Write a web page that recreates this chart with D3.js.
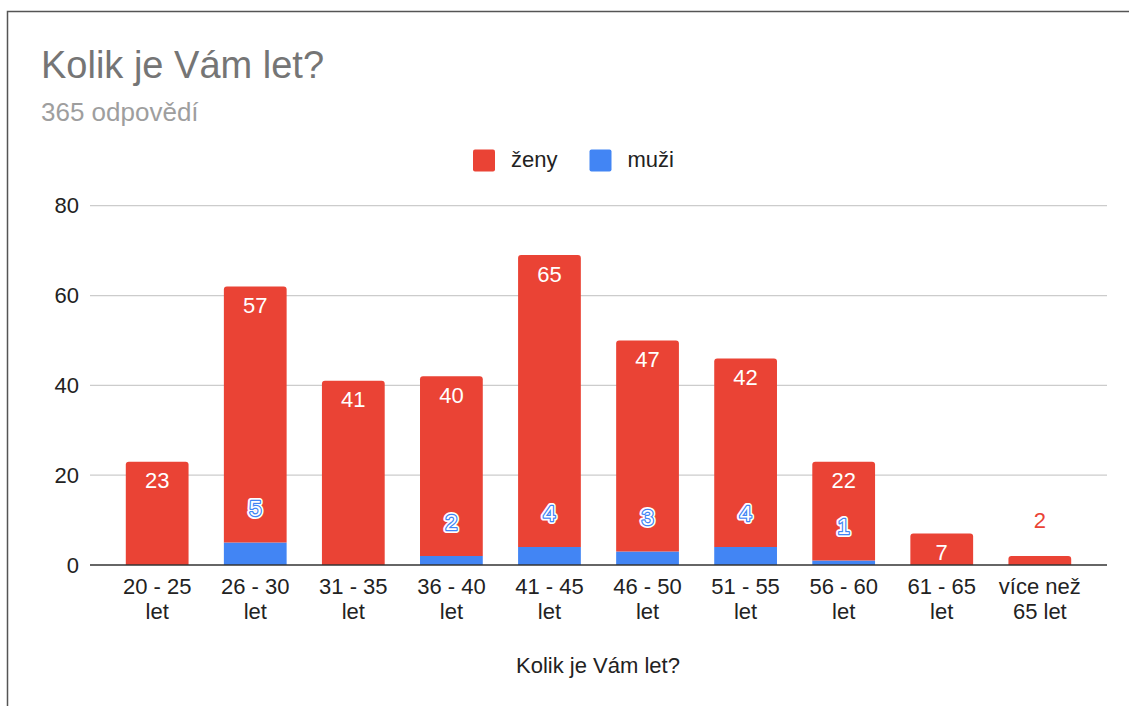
<!DOCTYPE html>
<html>
<head>
<meta charset="utf-8">
<script src="https://cdn.jsdelivr.net/npm/d3@7"></script>
<style>
  body { margin: 0; background: #fff; }
  text { font-family: Arial, "Liberation Sans", sans-serif; }
</style>
</head>
<body>
<script>
const categories = ["20 - 25 let", "26 - 30 let", "31 - 35 let", "36 - 40 let", "41 - 45 let",
  "46 - 50 let", "51 - 55 let", "56 - 60 let", "61 - 65 let", "více než 65 let"];
const zeny = [23, 57, 41, 40, 65, 47, 42, 22, 7, 2];
const muzi = [0, 5, 0, 2, 4, 3, 4, 1, 0, 0];
const seriesNames = ["ženy", "muži"];
const yTicks = [0, 20, 40, 60, 80];

const width = 1129;
const height = 706;
const red = "#ea4335";
const blue = "#4285f4";

const svg = d3
  .select("body")
  .append("svg")
  .attr("width", width)
  .attr("height", height);

// frame
svg
  .append("path")
  .attr("d", "M7.5,706 L7.5,11.5 L1129,11.5")
  .attr("fill", "none")
  .attr("stroke", "#555")
  .attr("stroke-width", 1.5);

svg
  .append("text")
  .attr("x", 41)
  .attr("y", 78)
  .attr("font-size", 38)
  .attr("fill", "#757575")
  .text("Kolik je Vám let?");

svg
  .append("text")
  .attr("x", 41)
  .attr("y", 121)
  .attr("font-size", 26)
  .attr("fill", "#9e9e9e")
  .text("365 odpovědí");

// legend
const legend = svg.append("g").attr("class", "legend");
[[473, red, seriesNames[0]], [589.5, blue, seriesNames[1]]].forEach(([lx, c, name]) => {
  legend
    .append("rect")
    .attr("x", lx)
    .attr("y", 149.5)
    .attr("width", 22)
    .attr("height", 22)
    .attr("rx", 2)
    .attr("fill", c);
  legend
    .append("text")
    .attr("x", lx + 38)
    .attr("y", 167)
    .attr("font-size", 22)
    .attr("fill", "#222")
    .text(name);
});

const x = d3
  .scaleBand()
  .domain(categories)
  .range([90, 1107])
  .paddingInner(0.36)
  .paddingOuter(0.365);

const y = d3.scaleLinear().domain([0, 80]).range([565, 205.7]);

const rows = categories.map((c, i) => ({ cat: c, muzi: muzi[i], zeny: zeny[i] }));
const stack = d3.stack().keys(["muzi", "zeny"])(rows);

// gridlines
svg
  .append("g")
  .selectAll("line")
  .data(yTicks.filter(t => t > 0))
  .join("line")
  .attr("x1", 90)
  .attr("x2", 1107)
  .attr("y1", d => y(d))
  .attr("y2", d => y(d))
  .attr("stroke", "#ccc")
  .attr("stroke-width", 1.3);

// y axis labels
const yAxis = svg
  .append("g")
  .attr("transform", "translate(79,0)")
  .call(d3.axisLeft(y).tickValues(yTicks).tickSize(0).tickPadding(0));
yAxis.select(".domain").remove();
yAxis
  .selectAll("text")
  .attr("font-size", 22)
  .attr("fill", "#222")
  .attr("font-family", "Arial, 'Liberation Sans', sans-serif");

function topRounded(x0, y0, w, h, r) {
  r = Math.min(r, h, w / 2);
  return `M${x0},${y0 + h} L${x0},${y0 + r} Q${x0},${y0} ${x0 + r},${y0} L${x0 + w - r},${y0} Q${x0 + w},${y0} ${x0 + w},${y0 + r} L${x0 + w},${y0 + h} Z`;
}

// bars
const colors = { muzi: blue, zeny: red };
stack.forEach(layer => {
  svg
    .append("g")
    .selectAll("path")
    .data(layer.filter(d => d[1] > d[0]))
    .join("path")
    .attr("fill", colors[layer.key])
    .attr("d", d => {
      const x0 = x(d.data.cat);
      const y0 = y(d[1]);
      const h = y(d[0]) - y0;
      const isTop = layer.key === "zeny" || d.data.zeny === 0;
      return isTop ? topRounded(x0, y0, x.bandwidth(), h, 3) : `M${x0},${y0}h${x.bandwidth()}v${h}h${-x.bandwidth()}Z`;
    });
});

// baseline
svg
  .append("line")
  .attr("x1", 90)
  .attr("x2", 1107)
  .attr("y1", y(0))
  .attr("y2", y(0))
  .attr("stroke", "#333")
  .attr("stroke-width", 1.5);

// ženy labels
const zenyLayer = stack[1];
svg
  .append("g")
  .selectAll("text")
  .data(zenyLayer)
  .join("text")
  .attr("x", d => x(d.data.cat) + x.bandwidth() / 2)
  .attr("y", d => {
    const inside = y(d[0]) - y(d[1]) > 25;
    return inside ? y(d[1]) + 26.5 : y(d[1]) - 28;
  })
  .attr("text-anchor", "middle")
  .attr("font-size", 22)
  .attr("fill", d => (y(d[0]) - y(d[1]) > 25 ? "#fff" : red))
  .text(d => d.data.zeny);

// muži labels (outlined)
const muziData = stack[0].filter(d => d.data.muzi > 0);
const muziG = svg.append("g");
muziG
  .selectAll("text.halo")
  .data(muziData)
  .join("text")
  .attr("class", "halo")
  .attr("x", d => x(d.data.cat) + x.bandwidth() / 2)
  .attr("y", d => y(d[1]) - 26.5)
  .attr("text-anchor", "middle")
  .attr("font-size", 22)
  .attr("fill", "#fff")
  .attr("stroke", "#fff")
  .attr("stroke-width", 6)
  .attr("stroke-linejoin", "round")
  .text(d => d.data.muzi);
muziG
  .selectAll("text.lbl")
  .data(muziData)
  .join("text")
  .attr("class", "lbl")
  .attr("x", d => x(d.data.cat) + x.bandwidth() / 2)
  .attr("y", d => y(d[1]) - 26.5)
  .attr("text-anchor", "middle")
  .attr("font-size", 22)
  .attr("fill", "#fff")
  .attr("stroke", blue)
  .attr("stroke-width", 2.5)
  .attr("stroke-linejoin", "round")
  .attr("paint-order", "stroke")
  .text(d => d.data.muzi);

// x axis labels, wrapped in two lines
const xAxis = svg
  .append("g")
  .attr("transform", `translate(0,${y(0)})`)
  .call(d3.axisBottom(x).tickSize(0).tickPadding(0));
xAxis.select(".domain").remove();
xAxis.selectAll("text").each(function(d) {
  const t = d3.select(this);
  const words = d.split(" ");
  const first = d === "více než 65 let" ? words.slice(0, 2) : words.slice(0, words.length - 1);
  const second = words.slice(first.length);
  t.text(null)
    .attr("y", 0)
    .attr("dy", null)
    .attr("font-size", 22)
    .attr("fill", "#222")
    .attr("font-family", "Arial, 'Liberation Sans', sans-serif");
  t.append("tspan").attr("x", 0).attr("y", 29).text(first.join(" "));
  t.append("tspan").attr("x", 0).attr("y", 54).text(second.join(" "));
});

svg
  .append("text")
  .attr("x", 598)
  .attr("y", 673)
  .attr("text-anchor", "middle")
  .attr("font-size", 22)
  .attr("fill", "#222")
  .text("Kolik je Vám let?");
</script>
</body>
</html>
